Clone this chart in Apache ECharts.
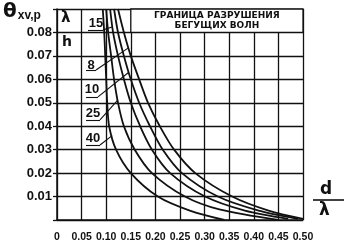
<!DOCTYPE html>
<html>
<head>
<meta charset="utf-8">
<script src="https://cdn.jsdelivr.net/npm/echarts@6/dist/echarts.min.js"></script>
<style>html,body{margin:0;padding:0;background:#fff}#c{width:355px;height:251px}</style>
</head>
<body>
<div id="c"></div>
<script>
// λ/h values of the curves
const lambdaH = ['40', '25', '15', '10', '8'];
// x ticks (d/λ)
const xTicks = [0, 0.05, 0.10, 0.15, 0.20, 0.25, 0.30, 0.35, 0.40, 0.45, 0.50];
// y ticks (θ)
const yTicks = [0.01, 0.02, 0.03, 0.04, 0.05, 0.06, 0.07, 0.08];
// curves [d/λ, θ]
const c40 = [[0.093,0.09],[0.096,0.08],[0.098,0.07],[0.100,0.06],[0.102,0.05],[0.106,0.04],[0.120,0.03],[0.150,0.02],[0.205,0.01],[0.27,0.004],[0.34,0]];
const c25 = [[0.100,0.09],[0.104,0.08],[0.110,0.07],[0.116,0.06],[0.124,0.05],[0.136,0.04],[0.158,0.03],[0.193,0.02],[0.26,0.01],[0.33,0.0045],[0.45,0]];
const c15 = [[0.108,0.09],[0.114,0.08],[0.124,0.07],[0.136,0.06],[0.150,0.05],[0.169,0.04],[0.193,0.03],[0.230,0.02],[0.301,0.01],[0.382,0.004],[0.47,0.0005]];
const c10 = [[0.116,0.09],[0.124,0.08],[0.136,0.07],[0.150,0.06],[0.167,0.05],[0.189,0.04],[0.215,0.03],[0.254,0.02],[0.327,0.01],[0.41,0.004],[0.49,0.0005]];
const c8  = [[0.124,0.09],[0.136,0.08],[0.150,0.07],[0.167,0.06],[0.185,0.05],[0.209,0.04],[0.238,0.03],[0.281,0.02],[0.356,0.01],[0.43,0.004],[0.50,0.0005]];
const curves = [c40, c25, c15, c10, c8];
// curve label annotations: text position, underline, leader end
const labelPos = [[0.0732,0.0350],[0.0732,0.0456],[0.0793,0.0840],[0.0711,0.0559],[0.0691,0.0661]];
const underline = [[0.059,0.0874,0.0320],[0.059,0.0874,0.0427],[0.063,0.0935,0.0811],[0.059,0.0833,0.0525],[0.059,0.0793,0.0640]];
const leaderEnd = [[0.112,0.036],[0.123,0.051],[0.112,0.0823],[0.146,0.063],[0.145,0.0734]];
const boxText = 'ГРАНИЦА РАЗРУШЕНИЯ\nБЕГУЩИХ ВОЛН';

const chart = echarts.init(document.getElementById('c'), null, {renderer: 'canvas'});
const ink = '#111';
const lab = "'Liberation Sans', Arial, sans-serif";

const series = curves.map((d, i) => {
  const u = underline[i];
  const s = {
    type: 'line',
    name: lambdaH[i],
    data: d,
    smooth: 0.3,
    showSymbol: false,
    symbol: 'none',
    lineStyle: {color: ink, width: 1.8},
    z: 5,
    silent: true,
    markLine: {
      silent: true, symbol: 'none', animation: false,
      lineStyle: {color: ink, width: 1.1, type: 'solid'},
      label: {show: false},
      data: [
        [{coord: [u[0], u[2]]}, {coord: [u[1], u[2]]}],
        [{coord: [u[1], u[2]]}, {coord: leaderEnd[i]}]
      ]
    },
    markPoint: {
      silent: true, animation: false,
      symbol: 'circle', symbolSize: 0,
      label: {show: true, color: ink, fontFamily: lab, fontWeight: 'bold', fontSize: 13, formatter: lambdaH[i]},
      data: [{coord: labelPos[i], value: lambdaH[i]}]
    }
  };
  if (i === 4) {
    s.markArea = {
      silent: true, animation: false,
      itemStyle: {color: '#fff', borderColor: ink, borderWidth: 1.3},
      label: {show: true, position: 'inside', color: ink, fontFamily: 'DejaVu Sans', fontWeight: 'bold', fontSize: 9, lineHeight: 10, formatter: boxText},
      data: [[{xAxis: 0.15, yAxis: 0.08}, {xAxis: 0.5, yAxis: 0.09}]]
    };
  }
  return s;
});

chart.setOption({
  animation: false,
  backgroundColor: '#fff',
  grid: {left: 57, right: 52, top: 9, bottom: 31, containLabel: false},
  xAxis: {
    type: 'value', min: 0, max: 0.5, interval: 0.05,
    axisLine: {show: true, lineStyle: {color: ink, width: 1.5}},
    axisTick: {show: false},
    splitLine: {show: true, lineStyle: {color: ink, width: 1.3}},
    axisLabel: {
      margin: 12, color: ink, fontFamily: lab, fontWeight: 'bold', fontSize: 10.5,
      formatter: v => { const t = xTicks.find(x => Math.abs(x - v) < 1e-9); return t === undefined ? '' : (t === 0 ? '0' : t.toFixed(2)); }
    }
  },
  yAxis: {
    type: 'value', min: 0, max: 0.09, interval: 0.01,
    axisLine: {show: true, lineStyle: {color: ink, width: 1.5}},
    axisTick: {show: true, length: 4, lineStyle: {color: ink, width: 1.3}},
    splitLine: {show: true, lineStyle: {color: ink, width: 1.3}},
    axisLabel: {
      margin: 5, color: ink, fontFamily: lab, fontWeight: 'bold', fontSize: 13,
      formatter: v => { const t = yTicks.find(y => Math.abs(y - v) < 1e-9); return t === undefined ? '' : t.toFixed(2); }
    }
  },
  graphic: [
    {type: 'text', left: 3, top: 2, style: {
      text: '{a|θ}{b|xv,p}', fill: ink,
      rich: {a: {fontFamily: 'DejaVu Sans', fontSize: 20, fontWeight: 'bold', fill: ink},
             b: {fontFamily: lab, fontSize: 12, fontWeight: 'bold', fill: ink, padding: [7, 0, 0, 1]}}
    }},
    {type: 'text', left: 61, top: 11, style: {text: 'λ', fill: ink, fontFamily: 'DejaVu Sans', fontSize: 15, fontWeight: 'bold'}},
    {type: 'text', left: 62, top: 35, style: {text: 'h', fill: ink, fontFamily: 'DejaVu Sans', fontSize: 14, fontWeight: 'bold'}},
    {type: 'text', left: 320, top: 181, style: {text: 'd', fill: ink, fontFamily: 'DejaVu Sans', fontSize: 17, fontWeight: 'bold'}},
    {type: 'line', shape: {x1: 313, y1: 200, x2: 344, y2: 200}, style: {stroke: ink, lineWidth: 1.6}},
    {type: 'text', left: 319, top: 202, style: {text: 'λ', fill: ink, fontFamily: 'DejaVu Sans', fontSize: 17, fontWeight: 'bold'}}
  ],
  series: series
});
</script>
</body>
</html>
